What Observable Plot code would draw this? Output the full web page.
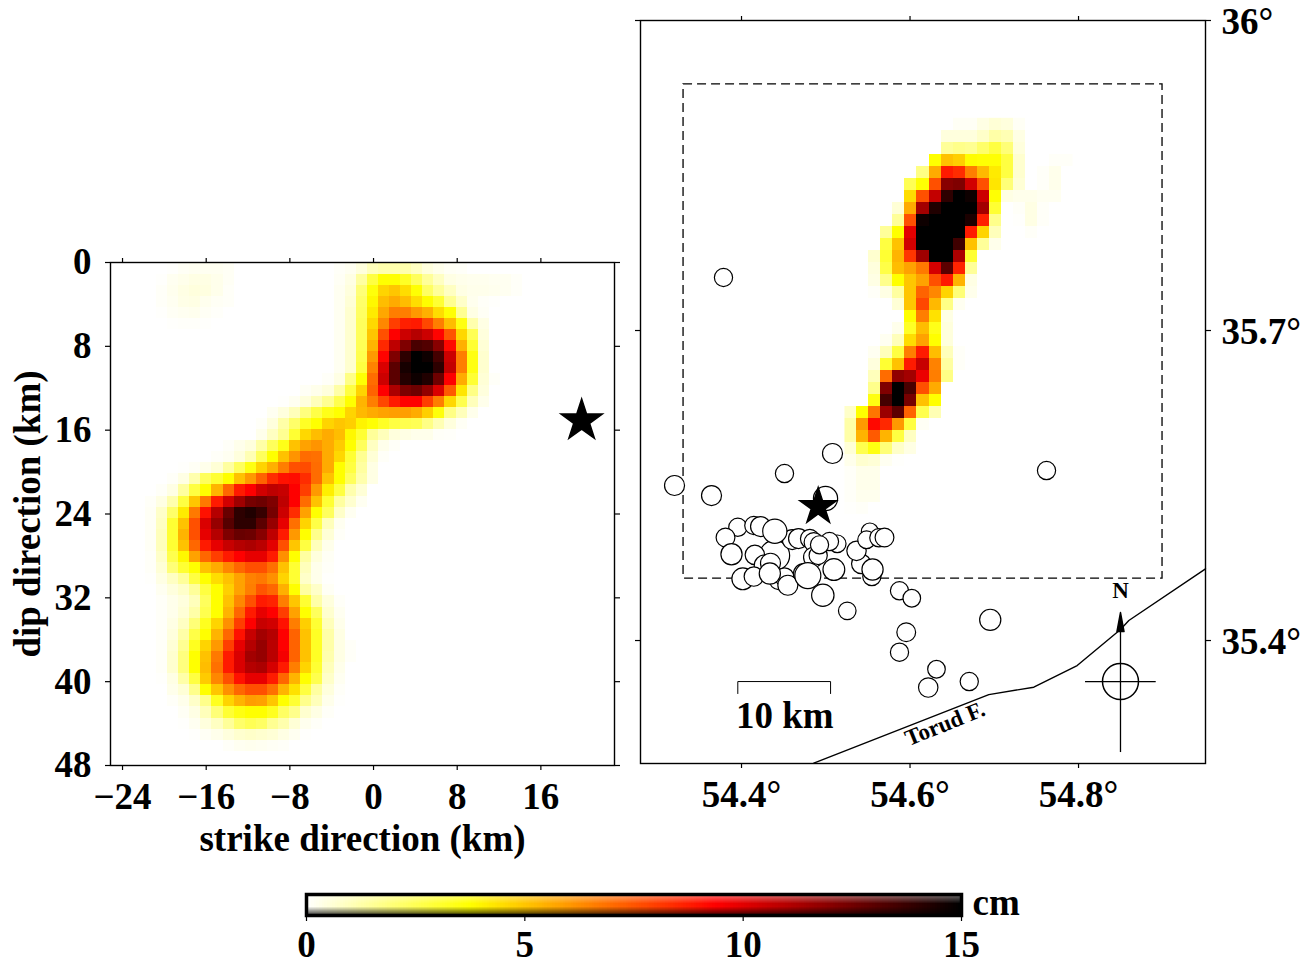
<!DOCTYPE html>
<html>
<head>
<meta charset="utf-8">
<script src="https://cdn.jsdelivr.net/npm/d3@7"></script>
<script src="https://cdn.jsdelivr.net/npm/@observablehq/plot@0.6"></script>
<style>
body{margin:0;background:#fff}
#chart{position:relative;width:1311px;height:964px;overflow:hidden}
</style>
</head>
<body>
<div id="chart"></div>
<script>
// Slip on the fault plane, cm. Each row: first column index, then values.
const faultCols = 45, faultRows = 45;
const faultSlip = [
[5,.05,.15,.2,.2,.2,.15,0,0,0,0,0,0,0,0,0,.1,.2,.5,1,1.2,1.2,1.2,.9,.5,.3,.15,.1],
[4,.05,.2,.3,.4,.4,.3,.15,0,0,0,0,0,0,0,0,0,.15,.4,1.4,2.8,3.75,3.75,3.2,2.4,1.5,.9,.4,.3,.25,.25,.2,.2,.1],
[4,.1,.25,.4,.5,.45,.3,.1,0,0,0,0,0,0,0,0,0,.2,.5,2,3.6,4.7,5,4.5,3.7,2.3,1.5,.9,.4,.3,.3,.25,.2,.1],
[4,.1,.2,.35,.4,.25,.15,.1,0,0,0,0,0,0,0,0,0,.2,.6,2.2,3.9,5.2,5.6,5.2,4.5,3.8,3,1.6,.8,.25,.1,.05],
[4,.05,.15,.2,.25,.15,.08,0,0,0,0,0,0,0,0,0,0,.2,.7,2.3,4.2,5.7,6.6,6.6,6,5.5,4.5,3.7,1.6,.4,.15],
[5,.05,.08,.08,.05,0,0,0,0,0,0,0,0,0,0,0,.2,.7,2.4,4.6,6.4,8,8.7,8.8,7.8,6.6,5.2,3.5,1.2,.4],
[20,.2,.7,2.4,5,7.6,9.4,10.5,11,10.5,9.3,7.5,4.6,2.5,.5],
[20,.2,.7,2.5,5.4,8.5,10.8,12.2,13.4,13.2,12,9.2,5.5,3,.6],
[20,.2,.7,2.6,6,9.3,12.2,14,15,14.7,13.5,10.5,6.6,3.5,.7],
[20,.2,.7,2.8,6.5,10.2,13,14.5,15,15,14,10.7,6.6,3.5,.7],
[19,.1,.4,1.8,3.7,7,10.5,13,14.2,14.7,14.3,12.6,9.4,5.6,3,.6,.1],
[17,.15,.3,.5,1.3,2.8,4.7,7.2,9.4,11.2,12.3,12.6,11.8,10.2,7.4,4.3,1.8,.5],
[15,.05,.2,.5,1,1.6,2.6,3.75,5.4,6.6,7.8,8.8,9.4,9.4,8,6.6,4.6,2.6,1,.3],
[14,.2,.5,1,1.9,2.7,3.4,3.75,4.7,5.3,5.6,5.8,5.9,5.9,5.6,4.8,3.6,1.8,1,.3],
[13,.1,.5,1.3,2.2,3.2,3.75,4.7,5,4.8,4,3.7,3.2,2.8,2.6,2.5,1.8,1.1,.5,.15],
[13,.3,.9,1.6,3,4.6,5.2,5.6,5.2,3.9,3,1.5,1,.5,.4,.3,.3,.1,.08],
[10,.1,.3,.5,1.3,2.4,3.4,5.1,5.8,6.1,5.6,4.9,3.75,2.4,.9,.3,.1],
[9,.1,.2,.5,1.1,2.4,3.75,5.1,6.1,7,6.9,5.6,4.6,3,1.6,.6,.1],
[6,.05,.15,.3,.6,1.4,2.4,3.5,4.7,5.5,6.6,7.6,7.7,7,5.6,3.75,2.8,1.4,.4],
[5,.1,.4,1.2,2.4,3,3.75,5.1,6,7.2,8.4,9,9.1,8.4,7,5.1,3.75,2.4,1.2,.4],
[4,.1,.4,1.4,2.8,3.75,5.4,7.1,8.8,9.4,10.4,10.8,10.6,9.4,8,6,4.1,2.8,1.2,.6],
[3,.1,.4,1.2,2.8,5,6.7,8.8,10.4,11.5,12.4,12.6,12.2,10.8,9.4,7,5.1,3,1.4,.7,.2],
[3,.15,.8,2.2,4.2,6.7,9,11,12.7,14,14.3,13.8,12.4,10.5,8.4,5.8,3.75,2.4,.8,.2],
[3,.15,.9,3,5.1,7.6,10.2,11.7,13.1,14,14,13,11.7,9.9,6.9,4.7,2.7,1,.2],
[3,.15,1,3,5.4,7.6,9.9,11,12.2,12.7,12.6,12,10.8,8.8,6,3.75,1.7,.6,.1],
[3,.15,1,3,5.1,7.1,8.8,9.9,10.6,11,11.2,10.9,10,7.6,5,2.8,1,.3],
[3,.1,.8,2.6,3.9,5.8,7.1,8,8.8,9.4,9.9,9.9,8.8,6.2,3.75,1.4,.5,.15],
[3,.1,.6,2,3,3.75,5.1,5.6,6.4,7.1,7.6,7.6,6.9,5.1,3,1,.3,.1],
[3,.05,.4,.9,1.5,2.8,3.75,4.5,5.1,5.8,6.5,6.7,6.2,4.7,3,.8,.3,.05],
[4,.2,.5,.8,1.5,2.8,3.75,4.8,5.8,6.6,7.5,7.1,5.5,3.75,1.4,.8,.15],
[4,.1,.3,.5,1,2.4,3.75,5.1,6.4,7.6,8.8,8.6,6.6,5,3,1.3,.5,.1],
[4,.1,.3,.6,1.3,2.6,3.75,5.4,7.1,8.8,9.9,9.4,8,5.8,3.75,2.4,.7,.2],
[4,.1,.4,.9,2,3.3,4.7,6.2,8,9.4,10.6,10.4,9,6.6,4.8,3,1,.3],
[4,.1,.5,1.3,2.7,3.75,5.4,7.1,9,10.6,11.4,11,9.4,7.2,5.1,3.2,1.3,.4],
[4,.1,.6,1.6,3.3,4.7,6,8,9.9,11,11.7,10.9,9.4,7.2,5.1,3.2,1.3,.4,.1],
[4,.1,.7,1.9,3.75,5.1,6.7,8.8,10.2,11.4,11.7,10.9,9.6,7.2,5.1,3.2,1.2,.4,.1],
[4,.1,.7,1.9,3.75,5.2,6.9,8.8,10.2,11,11.2,10.3,8.8,6.6,4.7,3,1,.3],
[4,.05,.4,1.3,2.8,4.9,6.4,7.6,9,9.9,9.9,8.8,7.1,5.4,3.75,2.6,.8,.2],
[5,.3,.6,1.7,3.75,5,6.2,7.1,7.6,7.6,6.9,5.4,4.4,2.8,1.4,.5,.1],
[5,.1,.3,.8,1.7,3.3,4.7,5.4,5.9,5.8,5,3.75,3,1.7,1,.3,.05],
[6,.15,.4,1,2,3,3.5,3.75,3.75,3.3,2.3,1.7,.7,.4,.1],
[6,.05,.2,.5,.9,1.5,2.2,2.5,2.3,1.6,1.2,.6,.25,.1],
[7,.05,.15,.3,.5,.7,.8,.7,.6,.4,.2,.05],
[10,.1,.2,.25,.2,.15,.1],
[0]
];

// Slip projected on the map, cm. Each row: first column index, then values.
const mapCols = 19, mapRows = 33;
const mapSlip = [
[9,.15,.15,.4,.6,.5,.15],
[8,.5,.5,.5,.8,1.3,1.1,.4],
[8,1.5,1.7,1.6,2.2,2.8,2,.5],
[7,3.75,5.1,4.8,3.8,3.7,3.7,2.8,.7,0,0,.1,.1],
[6,1.8,5.6,8.8,8.4,6.6,5.3,4.2,2.8,.7,0,.1,.3],
[5,2.5,3.7,7.6,12,12.2,10.4,7.6,4.3,2,.6,0,.1,.3],
[5,4.5,7.6,10.7,14,15,14.7,10.5,3.7,.4,.3,.3,.2,.2],
[4,.6,5.6,11.4,14.3,15,15,15,11.4,3,0,.1,.4,.1],
[4,1.5,7.6,14.7,15,15,15,14.4,8.7,1.7,0,.05,.4,.1],
[3,1.5,3.75,10,15,15,15,15,8.8,4.7,1,0,0,.1],
[3,2.8,5.1,10.4,15,15,15,13.6,5.1,1.5,.3],
[2,.7,3,5.4,8.2,11.5,15,15,11.2,3],
[2,.5,2.7,5.2,5.8,6.7,10.3,13,8.6,1.5],
[2,.4,1.7,3.75,5,5.8,7.6,8.8,5.4,.4],
[2,.1,.4,1.4,5,7.2,6.4,4.7,2,.3],
[4,.6,5,7.8,5.3,1.8,.2],
[5,3.75,6.6,4.4,.4],
[4,.3,3.2,5.2,3.4,.5],
[3,.2,1,4.5,5.8,3.75,.5],
[2,.2,1,2.8,6.6,8.8,5.2,1,.1],
[2,.5,3,5.1,8.8,10.6,6.5,1.4,.1],
[2,1,7,11.8,11.4,9.8,6.6,1.8],
[2,1.7,12.2,15,13.4,7.6,5.6],
[2,3.5,13.5,15,12.4,5.1,3.75],
[0,.8,3.75,6.8,11.6,13,7.2,2.6,1.1],
[0,1.3,6,9.2,8.5,6,2.8,.15],
[0,1.3,5.4,7.4,5.4,2.8,.9],
[0,.6,2.6,3.5,2,.8,.4],
[0,.3,.7,.6,.2,.05],
[0,.1,.3,.3],
[0,.1,.3,.3],
[0,.1,.25,.25],
[0,.05,.1]
];

// Aftershocks, drawn in this order
const quakeLon = [54.3786,54.5080,54.4510,54.3205,54.3644,54.7620,54.4997,54.4392,54.3956,54.4146,54.4226,54.3810,54.3881,54.4158,54.4602,54.4395,54.4677,54.4811,54.4858,54.5136,54.5044,54.4855,54.4910,54.4926,54.4277,54.4344,54.4015,54.4146,54.4439,54.4510,54.4336,54.4550,54.4736,54.4787,54.5096,54.4965,54.5255,54.5421,54.5365,54.5523,54.5484,54.5630,54.5697,54.5547,54.5555,54.5875,54.6021,54.5955,54.5875,54.6314,54.6216,54.6703,54.6952];
const quakeLat = [35.7513,35.5810,35.5616,35.5500,35.5403,35.5645,35.5374,35.4823,35.5096,35.5113,35.5103,35.4997,35.4835,35.4829,35.4977,35.5058,35.4987,35.4984,35.4951,35.4936,35.4958,35.4806,35.4823,35.4926,35.4726,35.4748,35.4597,35.4619,35.4581,35.4613,35.4648,35.4535,35.4648,35.4629,35.4687,35.4438,35.4287,35.4742,35.4868,35.5055,35.4975,35.4994,35.4997,35.4619,35.4687,35.4481,35.4409,35.4080,35.3887,35.3722,35.3545,35.3603,35.4200];
const quakeMag = [3.7,4,3.7,4,4,3.7,4.7,5.7,3.7,3.7,4,3.8,4.2,3.9,4,4.7,4,3.8,3.9,3.6,3.7,4,3.7,3.7,4.2,4,4.3,3.9,3.7,3.8,4.2,4,4,5,4.3,4.4,3.6,3.9,3.9,3.5,3.6,3.7,3.8,3.7,4.2,3.7,3.6,3.8,3.7,3.6,3.9,3.7,4.2];

const faultLon = [54.9507,54.8597,54.8498,54.7984,54.7469,54.6935,54.4858];
const faultLat = [35.4694,35.4194,35.4106,35.3758,35.3548,35.3477,35.2813];

const slipStops = [0,3.75,9.375,15];
const slipColors = ["#ffffff","#ffff00","#ff0000","#000000"];
const strikeTicks = [-24,-16,-8,0,8,16];
const dipTicks = [0,8,16,24,32,40,48];
const lonTicks = [54.4,54.6,54.8];
const latTicks = [35.4,35.7,36];
const barTicks = [0,5,10,15];

const FONT = "Liberation Serif";
const BIG = 37;
const colorScale = {type:"linear",domain:slipStops,range:slipColors,clamp:true};
const minus = d => d < 0 ? "\u2212" + (-d) : String(d);

function grid(rows, nx, ny){
  const a = new Array(nx*ny).fill(0);
  rows.forEach((r,i)=>{ if(i<ny) r.slice(1).forEach((v,j)=>{ const c=r[0]+j; if(c<nx) a[i*nx+c]=v; }); });
  return a;
}
const baseStyle = {position:"absolute",left:"0px",top:"0px",background:"transparent",overflow:"visible",maxWidth:"none",fontFamily:FONT,fontWeight:"bold",color:"black"};
const chart = document.getElementById("chart");

// Left panel: slip on the fault plane
chart.appendChild(Plot.plot({
  width:1311,height:964,marginLeft:110,marginRight:697,marginTop:262,marginBottom:199,
  style:baseStyle,color:colorScale,
  x:{domain:[-25.15,23.04],axis:null},
  y:{domain:[0,48],reverse:true,axis:null},
  marks:[
    Plot.raster(grid(faultSlip,faultCols,faultRows),{width:faultCols,height:faultRows,x1:-25.05,x2:22.7,y1:0,y2:47.66,imageRendering:"pixelated"}),
    Plot.axisX(strikeTicks,{anchor:"bottom",label:null,tickSize:5,tickPadding:12,tickFormat:minus,fontSize:BIG,strokeWidth:1.2}),
    Plot.axisX(strikeTicks,{anchor:"top",label:null,tickSize:5,fill:"none",strokeWidth:1.2}),
    Plot.axisY(dipTicks,{anchor:"left",label:null,tickSize:5,tickPadding:14,tickFormat:String,fontSize:BIG,strokeWidth:1.2}),
    Plot.axisY(dipTicks,{anchor:"right",label:null,tickSize:5,fill:"none",strokeWidth:1.2}),
    Plot.frame({stroke:"black",strokeWidth:1.4}),
    Plot.dot([19.9],{x:d=>d,y:[15.1],symbol:"star",r:13,fill:"black",stroke:"black"}),
    Plot.text(["strike direction (km)"],{frameAnchor:"bottom",dy:85,fontSize:BIG,fontWeight:"bold"}),
    Plot.text(["dip direction (km)"],{frameAnchor:"left",dx:-82,rotate:-90,textAnchor:"middle",fontSize:BIG,fontWeight:"bold"})
  ]
}));

// Right panel: map
const scaleLon = [54.3956,54.3956,54.5057,54.5057];
const scaleLat = [35.3487,35.3603,35.3603,35.3487];
chart.appendChild(Plot.plot({
  width:1311,height:964,marginLeft:640,marginRight:106,marginTop:20,marginBottom:201,
  style:baseStyle,color:colorScale,
  r:{type:"linear",domain:[3,5],range:[7,13]},
  x:{domain:[54.2801,54.9507],axis:null},
  y:{domain:[35.281,36],axis:null},
  marks:[
    Plot.raster(grid(mapSlip,mapCols,mapRows),{width:mapCols,height:mapRows,x1:54.5222,x2:54.7929,y1:35.9058,y2:35.5226,imageRendering:"pixelated"}),
    Plot.rect([0],{x1:[54.3312],x2:[54.8997],y1:[35.46],y2:[35.9381],fill:"none",stroke:"black",strokeWidth:1.3,strokeDasharray:"9,5"}),
    Plot.line(faultLon,{x:d=>d,y:(d,i)=>faultLat[i],stroke:"black",strokeWidth:1.4}),
    Plot.dot(quakeLon,{x:d=>d,y:(d,i)=>quakeLat[i],r:(d,i)=>quakeMag[i],sort:null,fill:"white",stroke:"black",strokeWidth:1.2}),
    Plot.dot([54.491],{x:d=>d,y:[35.5296],symbol:"star",r:11.5,fill:"black",stroke:"black"}),
    Plot.line(scaleLon,{x:d=>d,y:(d,i)=>scaleLat[i],stroke:"black",strokeWidth:1}),
    Plot.text(["10 km"],{x:[54.4513],y:[35.3265],fontSize:BIG,fontWeight:"bold"}),
    Plot.text(["Torud F."],{x:[54.6415],y:[35.3195],rotate:-22,fontSize:23,fontWeight:"bold"}),
    Plot.ruleX([54.8498],{y1:35.2916,y2:35.4097,stroke:"black",strokeWidth:1.3}),
    Plot.ruleY([35.3603],{x1:54.8083,x2:54.8922,stroke:"black",strokeWidth:1.3}),
    Plot.dot([54.8498],{x:d=>d,y:[35.3603],r:18,fill:"none",stroke:"black",strokeWidth:1.5}),
    Plot.line([54.8456,54.8498,54.854,54.8456],{x:d=>d,y:[35.4087,35.4271,35.4087,35.4087],fill:"black",stroke:"black"}),
    Plot.text(["N"],{x:[54.8498],y:[35.4487],fontSize:23,fontWeight:"bold"}),
    Plot.axisX(lonTicks,{anchor:"bottom",label:null,tickSize:5,tickPadding:12,tickFormat:d=>d.toFixed(1)+"\u00b0",fontSize:BIG,strokeWidth:1.2}),
    Plot.axisX(lonTicks,{anchor:"top",label:null,tickSize:5,fill:"none",strokeWidth:1.2}),
    Plot.axisY(latTicks,{anchor:"right",label:null,tickSize:5,fill:"none",strokeWidth:1.2}),
    Plot.axisY(latTicks,{anchor:"right",label:null,tickSize:0,tickPadding:16,dy:2,tickFormat:d=>(d===36?"36":d.toFixed(1))+"\u00b0",fontSize:BIG}),
    Plot.axisY(latTicks,{anchor:"left",label:null,tickSize:5,fill:"none",strokeWidth:1.2}),
    Plot.frame({stroke:"black",strokeWidth:1.4})
  ]
}));

// Colour bar with its top-lit shading
const color = d3.scaleLinear().domain(slipStops).range(slipColors).clamp(true);
const barSlices = d3.range(0,15,0.06);
const barShade = d3.range(0,1,1/20);
const barCells = barSlices.flatMap(v=>barShade.map(s=>({v,s})));
function shaded({v,s}){
  const base = color(v+0.03);
  if (s<0.45) return d3.interpolateRgb(base,"#ffffff")(0.45*(0.45-s)/0.45);
  if (s>0.55) return d3.interpolateRgb(base,"#000000")(0.8*(s-0.55)/0.45);
  return base;
}
chart.appendChild(Plot.plot({
  width:1311,height:964,marginLeft:306,marginRight:350,marginTop:894,marginBottom:49,
  style:baseStyle,color:{type:"identity"},
  x:{domain:[0,15],axis:null},
  y:{domain:[0,1],reverse:true,axis:null},
  marks:[
    Plot.rect(barCells,{x1:d=>d.v,x2:d=>d.v+0.06,y1:d=>d.s,y2:d=>d.s+0.05,fill:shaded,shapeRendering:"crispEdges"}),
    Plot.frame({stroke:"black",strokeWidth:3.5}),
    Plot.axisX(barTicks,{anchor:"bottom",label:null,tickSize:6,tickPadding:9,tickFormat:String,fontSize:BIG,strokeWidth:1.2}),
    Plot.text(["cm"],{frameAnchor:"right",dx:11,dy:-2,textAnchor:"start",fontSize:BIG,fontWeight:"bold"})
  ]
}));
</script>
</body>
</html>
